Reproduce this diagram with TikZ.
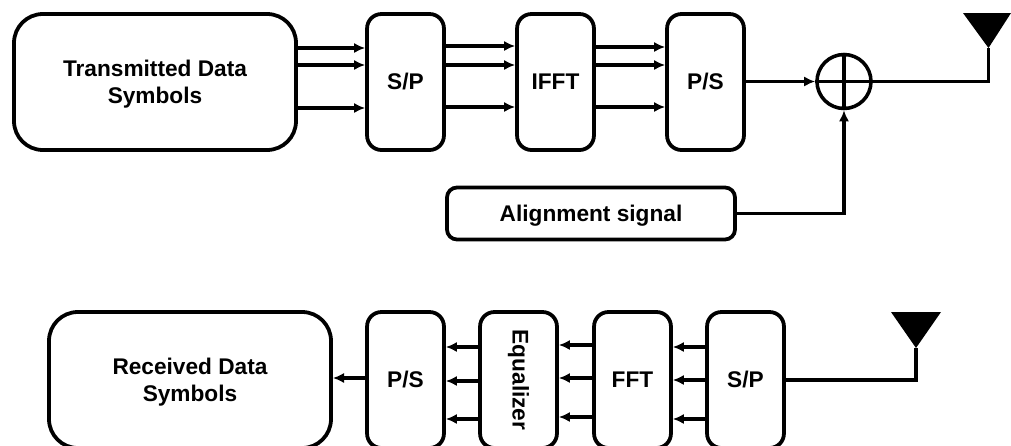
\documentclass[tikz,border=0pt]{standalone}
\usepackage{fontspec}
\setmainfont{Liberation Sans}
\usetikzlibrary{arrows.meta}

\newcommand{\boxtext}[1]{\raisebox{0pt}[\dimexpr\height+2.2pt\relax]{\begin{tabular}{@{}c@{}}#1\end{tabular}}}

\tikzset{
  blockbox/.style={draw,line width=1.7pt,rounded corners=6.5pt,inner sep=0pt,align=center,minimum width=34.6pt,minimum height=61.2pt,font=\fontsize{10.2}{12}\selectfont\bfseries},
  databox/.style={blockbox,rounded corners=13pt,minimum width=126.9pt},
  sig/.style={line width=1.4pt,-{Latex[length=5pt,width=4.6pt]}},
  wire/.style={line width=1.4pt},
}

\begin{document}
\begin{tikzpicture}[x=0.45pt,y=0.45pt,yscale=-1,xscale=1]
\useasboundingbox (0,0) rectangle (1011,446);

%transmitter
\node [databox] (txdata) at (155,82) {\boxtext{Transmitted Data\\Symbols}};
\node [blockbox] (txsp) at (405.5,82) {S/P};
\node [blockbox] (txifft) at (555.5,82) {IFFT};
\node [blockbox] (txps) at (705.5,82) {P/S};
\node [draw,circle,line width=1.6pt,minimum size=24.3pt,inner sep=0pt] (sum) at (844,81.5) {};
\node [blockbox,rounded corners=4.5pt,minimum width=129.6pt,minimum height=23.4pt] (align) at (591,213.5) {\boxtext{Alignment signal}};
\coordinate (txant) at (988.5,48);

\foreach \y in {48,65,108} \draw [sig] (txdata.east |- 0,\y) -- (txsp.west |- 0,\y);
\foreach \y in {46,65,107} \draw [sig] (txsp.east |- 0,\y) -- (txifft.west |- 0,\y);
\foreach \y in {47,65,107} \draw [sig] (txifft.east |- 0,\y) -- (txps.west |- 0,\y);
\draw [sig] (txps.east |- sum.west) -- (sum.west);
\draw [sig] (align.east) -| (sum.south);
\draw [wire] (sum.north) -- (sum.south);
\draw [wire] (sum.west) -- (sum.east);
\draw [wire] (sum.east) -| (txant);
\fill (963,13) -- (1011,13) -- (txant) -- cycle;

%receiver
\node [databox] (rxdata) at (190,380) {\boxtext{Received Data\\Symbols}};
\node [blockbox] (rxps) at (405.5,380) {P/S};
\node [blockbox] (rxeq) at (518.5,380) {\rotatebox{-90}{Equalizer}};
\node [blockbox] (rxfft) at (632.5,380) {FFT};
\node [blockbox] (rxsp) at (745.5,380) {S/P};
\coordinate (rxant) at (916,348);

\draw [sig] (rxps.west |- 0,378) -- (rxdata.east |- 0,378);
\foreach \y in {347,381,419} \draw [sig] (rxeq.west |- 0,\y) -- (rxps.east |- 0,\y);
\foreach \y in {345,378,417} \draw [sig] (rxfft.west |- 0,\y) -- (rxeq.east |- 0,\y);
\foreach \y in {347,380,419} \draw [sig] (rxsp.west |- 0,\y) -- (rxfft.east |- 0,\y);
\draw [wire] (rxsp.east) -| (rxant);
\fill (891,312) -- (941,312) -- (rxant) -- cycle;
\end{tikzpicture}
\end{document}
